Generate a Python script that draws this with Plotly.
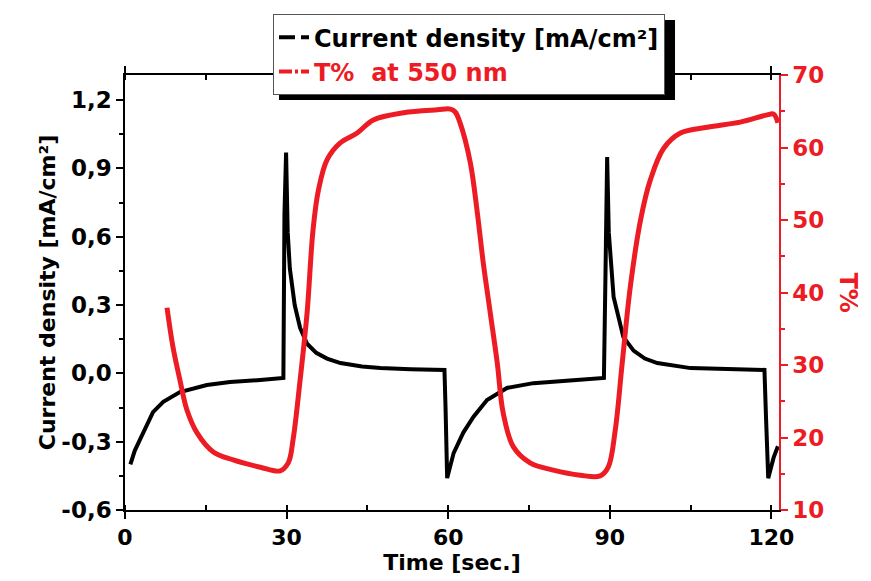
import plotly.graph_objects as go

# current density [mA/cm2] vs time [s]
t_cur = [1.0, 1.8, 2.8, 4.0, 5.2, 7.1, 10.2, 15.2, 19.5, 25.1, 29.4,
         29.6, 29.9, 30.2, 30.6, 31.5, 32.5, 33.8, 35.5, 37.5, 40.0, 44.0,
         47.4, 53.0, 59.3, 59.5, 59.8, 61.0, 62.8, 64.7, 67.2, 70.9, 75.8,
         83.2, 88.9, 89.2, 89.5, 89.8, 90.7, 92.5, 94.4, 96.5, 98.8, 105.0,
         112.0, 118.7, 119.0, 119.4, 120.4, 121.2]
j_cur = [-0.40, -0.34, -0.29, -0.23, -0.17, -0.125, -0.082, -0.051, -0.038, -0.029, -0.02,
         0.70, 0.97, 0.62, 0.46, 0.30, 0.20, 0.13, 0.09, 0.065, 0.045, 0.03,
         0.023, 0.018, 0.015, -0.15, -0.46, -0.35, -0.26, -0.19, -0.117, -0.064, -0.043,
         -0.03, -0.02, 0.45, 0.95, 0.62, 0.335, 0.16, 0.10, 0.065, 0.045, 0.023,
         0.018, 0.015, -0.20, -0.46, -0.37, -0.32]

# transmittance at 550 nm [%] vs time [s]
t_T = [7.8, 8.9, 10.2, 11.5, 13.4, 16.4, 20.1, 25.1, 28.8, 30.3, 31.2, 32.5,
       33.8, 34.9, 35.9, 37.5, 39.9, 43.1, 46.1, 51.7, 58.0, 60.4, 61.3, 62.2,
       64.1, 65.4, 66.5, 67.8, 69.1, 70.2, 72.1, 75.2, 79.5, 84.5, 88.2, 89.7,
       91.0, 92.3, 93.8, 95.7, 97.5, 100.0, 103.1, 108.1, 114.2, 119.2, 120.4, 121.2]
T_val = [37.9, 32.5, 27.9, 23.8, 20.6, 18.0, 16.9, 15.9, 15.4, 16.5, 19.7, 27.9,
         37.2, 48.6, 54.1, 58.3, 60.6, 62.0, 63.8, 64.8, 65.2, 65.3, 64.9, 63.4,
         57.9, 51.0, 44.1, 37.2, 30.3, 23.4, 18.7, 16.5, 15.5, 14.8, 14.7, 15.9,
         21.0, 30.3, 40.8, 50.0, 55.5, 59.9, 62.0, 62.8, 63.5, 64.5, 64.6, 63.4]

# left axis ticks (plain hyphen, decimal comma as in the original)
j_ticks = [-0.6, -0.3, 0.0, 0.3, 0.6, 0.9, 1.2]
j_labels = ["-0,6", "-0,3", "0,0", "0,3", "0,6", "0,9", "1,2"]

RED = "#ED1C24"
FONT = "DejaVu Sans"

fig = go.Figure()
fig.add_trace(go.Scatter(x=t_cur, y=j_cur, mode="lines", line=dict(color="black", width=4),
                         showlegend=False))
fig.add_trace(go.Scatter(x=t_T, y=T_val, mode="lines", yaxis="y2", line=dict(color=RED, width=5),
                         line_shape="spline", showlegend=False))
# legend entries
fig.add_trace(go.Scatter(x=[None], y=[None], mode="lines", name="Current density [mA/cm²]",
                         line=dict(color="black", width=4, dash="16px,6px")))
fig.add_trace(go.Scatter(x=[None], y=[None], mode="lines", name="<span style='color:%s'>T%%  at 550 nm</span>" % RED,
                         yaxis="y2", line=dict(color=RED, width=4, dash="13px,3px,3px,3px")))

fig.update_layout(
    width=871, height=581,
    margin=dict(l=125, r=92, t=75, b=71),
    plot_bgcolor="white", paper_bgcolor="white",
    separators=",.",
    font=dict(family=FONT, size=22, color="black", weight="bold"),
    xaxis=dict(range=[0, 121.4], dtick=30, tick0=0, showgrid=False, zeroline=False, automargin=False,
               showline=True, linecolor="black", linewidth=1.5, mirror="ticks",
               ticks="outside", ticklen=7, tickwidth=1.5, tickcolor="black",
               minor=dict(dtick=15, ticks="inside", ticklen=5, tickcolor="black"),
               tickfont=dict(family=FONT, size=22, weight="bold"),
               title=dict(text="Time [sec.]", font=dict(family=FONT, size=22, weight="bold"), standoff=0)),
    yaxis=dict(range=[-0.6, 1.31], tickvals=j_ticks, ticktext=j_labels, showgrid=False, zeroline=False,
               automargin=False, showline=True, linecolor="black", linewidth=1.5,
               ticks="outside", ticklen=7, tickwidth=1.5, tickcolor="black",
               minor=dict(dtick=0.15, tick0=-0.6, ticks="outside", ticklen=4, tickcolor="black"),
               tickfont=dict(family=FONT, size=23, weight="bold"),
               title=dict(text="Current density [mA/cm²]", font=dict(family=FONT, size=22, weight="bold"),
                          standoff=0)),
    yaxis2=dict(range=[10, 70], dtick=10, overlaying="y", side="right", showgrid=False, zeroline=False,
                automargin=False, showline=True, linecolor=RED, linewidth=1.5,
                ticks="outside", ticklen=7, tickwidth=1.5, tickcolor=RED,
                minor=dict(dtick=5, ticks="outside", ticklen=4, tickcolor=RED),
                tickfont=dict(family=FONT, size=23, color=RED, weight="bold")),
    legend=dict(x=0.2263, y=1.14, xanchor="left", yanchor="top", bgcolor="white",
                bordercolor="#555555", borderwidth=1, tracegroupgap=0,
                font=dict(family=FONT, size=24, weight="bold")),
    annotations=[dict(text="T%", x=1.13, y=0.5, xref="paper", yref="paper", showarrow=False,
                      textangle=90, font=dict(family=FONT, size=24, color=RED, weight="bold"))],
    shapes=[dict(type="rect", xref="paper", yref="paper", x0=0.2355, x1=0.841, y0=0.9425, y1=1.1264,
                 fillcolor="black", line=dict(width=0), layer="above")],
)

fig.write_html("out.html", config={"displayModeBar": False},
               post_script="document.body.style.margin='0';")
